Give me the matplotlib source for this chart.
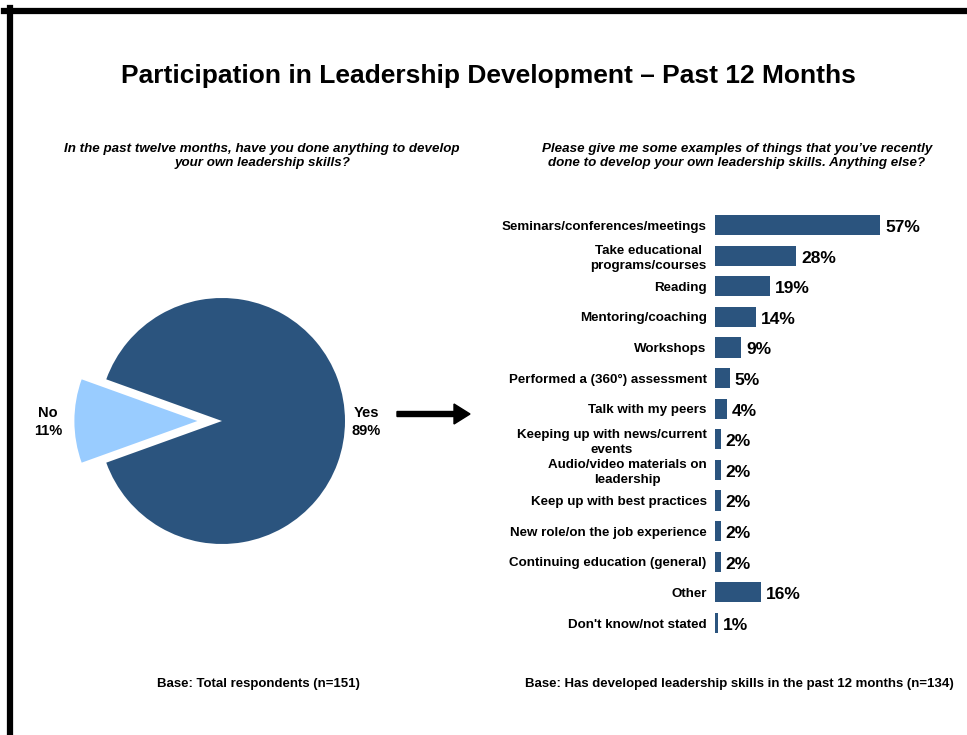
import matplotlib
matplotlib.use("Agg")
import matplotlib.pyplot as plt
from matplotlib.lines import Line2D
from matplotlib.patches import FancyArrow

plt.rcParams['font.family'] = ['Liberation Sans', 'DejaVu Sans']

# pie data
pie_labels = ['No', 'Yes']
pie_values = [11, 89]

# bar data
activities = [
    'Seminars/conferences/meetings',
    'Take educational\nprograms/courses',
    'Reading',
    'Mentoring/coaching',
    'Workshops',
    'Performed a (360\u00b0) assessment',
    'Talk with my peers',
    'Keeping up with news/current\nevents',
    'Audio/video materials on\nleadership',
    'Keep up with best practices',
    'New role/on the job experience',
    'Continuing education (general)',
    'Other',
    "Don't know/not stated",
]
percents = [57, 28, 19, 14, 9, 5, 4, 2, 2, 2, 2, 2, 16, 1]

dark_blue = '#2B547E'
light_blue = '#99CCFF'

W, H = 967, 735
fig = plt.figure(figsize=(W / 100, H / 100), dpi=100)


def fx(x):
    return x / W


def fy(y):
    return 1 - y / H


# frame lines (top and left)
fig.add_artist(Line2D([fx(4), fx(967)], [fy(11), fy(11)], color='black', lw=4.5,
                      transform=fig.transFigure))
fig.add_artist(Line2D([fx(10), fx(10)], [fy(8), fy(735)], color='black', lw=4.5,
                      transform=fig.transFigure))

fig.text(fx(488), fy(76), 'Participation in Leadership Development \u2013 Past 12 Months',
         ha='center', va='center', fontsize=19, fontweight='bold')

fig.text(fx(262), fy(156), 'In the past twelve months, have you done anything to develop\nyour own leadership skills?',
         ha='center', va='center', fontsize=9.6, fontweight='bold', style='italic', linespacing=1.2)
fig.text(fx(737), fy(156), "Please give me some examples of things that you\u2019ve recently\ndone to develop your own leadership skills. Anything else?",
         ha='center', va='center', fontsize=9.6, fontweight='bold', style='italic', linespacing=1.2)

# pie
cx, cy, r = 222, 421, 123
size = 300
pax = fig.add_axes([fx(cx - size / 2), fy(cy + size / 2), size / W, size / H])
wedges, _ = pax.pie(pie_values, colors=[light_blue, dark_blue], startangle=180 - 11 * 1.8,
                    explode=[0.2, 0], radius=1, counterclock=True)
lim = (size / 2) / r
pax.set_xlim(-lim, lim)
pax.set_ylim(-lim, lim)
pax.set_aspect('equal')
pax.axis('off')

fig.text(fx(48), fy(422), f'{pie_labels[0]}\n{pie_values[0]}%', ha='center', va='center',
         fontsize=10.5, fontweight='bold', linespacing=1.45)
fig.text(fx(366), fy(422), f'{pie_labels[1]}\n{pie_values[1]}%', ha='center', va='center',
         fontsize=10.5, fontweight='bold', linespacing=1.45)

# arrow
fig.add_artist(FancyArrow(fx(397), fy(414), fx(470) - fx(397), 0, width=5 / H,
                          head_width=20 / H, head_length=16 / W, length_includes_head=True,
                          color='black', transform=fig.transFigure))

# bars
n = len(activities)
step = (623 - 225) / (n - 1)
top = 225 - step / 2
bottom = 623 + step / 2
x0 = 715
px_per_pct = 2.9
x1 = 935
bax = fig.add_axes([fx(x0), fy(bottom), (x1 - x0) / W, (bottom - top) / H])
ypos = list(range(n))
bax.barh(ypos, percents, height=0.66, color=dark_blue)
bax.set_xlim(0, (x1 - x0) / px_per_pct)
bax.set_ylim(n - 0.5, -0.5)
bax.set_yticks(ypos)
bax.set_yticklabels(activities, fontsize=9.6, fontweight='bold', multialignment='center',
                    linespacing=1.3)
bax.tick_params(axis='y', length=0, pad=6)
bax.set_xticks([])
for s in bax.spines.values():
    s.set_visible(False)
for y, v in zip(ypos, percents):
    bax.text(v + 1.7, y + 0.08, f'{v}%', va='center', ha='left', fontsize=12.5, fontweight='bold')

fig.text(fx(258), fy(684), 'Base: Total respondents (n=151)', ha='center', va='center',
         fontsize=9.5, fontweight='bold')
fig.text(fx(739), fy(684), 'Base: Has developed leadership skills in the past 12 months (n=134)',
         ha='center', va='center', fontsize=9.5, fontweight='bold')

fig.savefig('out.png', dpi=100)
